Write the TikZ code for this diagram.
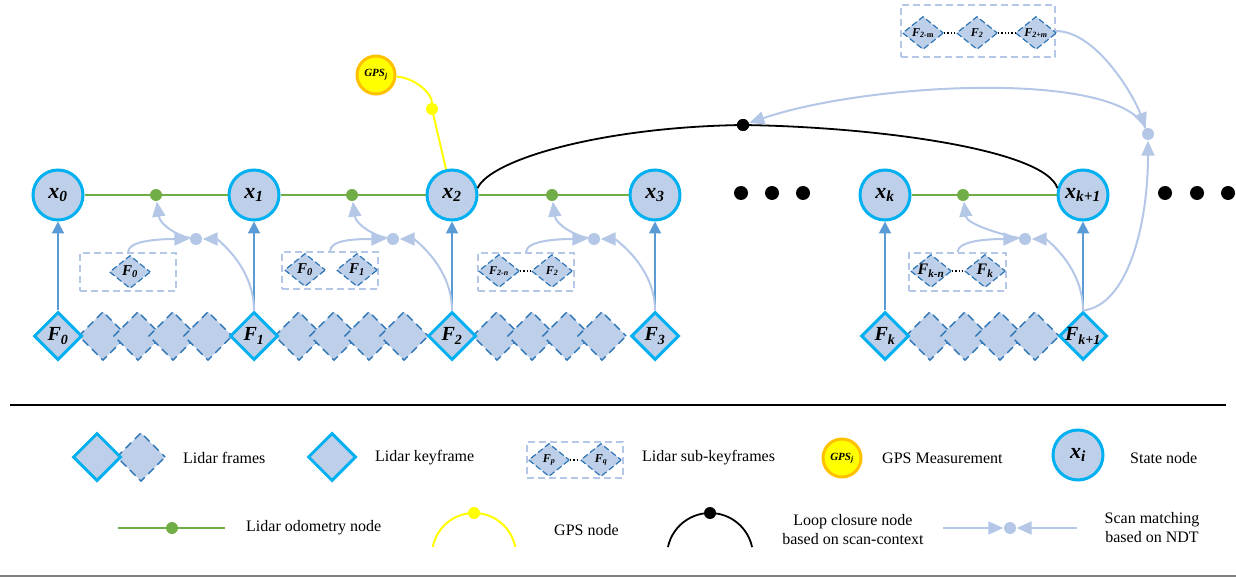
\documentclass[tikz,border=0pt]{standalone}
\usepackage{fontspec}
\setmainfont{Liberation Serif}
\usetikzlibrary{shapes.geometric,arrows.meta}
\definecolor{fillb}{RGB}{189,207,233}
\definecolor{cyanb}{RGB}{0,176,240}
\definecolor{darkb}{RGB}{46,117,182}
\definecolor{arrowb}{RGB}{91,155,213}
\definecolor{lightb}{RGB}{180,199,231}
\definecolor{greenb}{RGB}{112,173,71}
\definecolor{gpsyel}{RGB}{255,255,0}
\definecolor{gpsor}{RGB}{255,192,0}
\definecolor{sepgray}{RGB}{128,128,128}
\tikzset{
  stnode/.style={circle, draw=cyanb, line width=3pt, fill=fillb, minimum size=50pt, inner sep=0pt,
    font=\fontsize{22}{22}\selectfont\bfseries\itshape},
  kf/.style={diamond, draw=cyanb, line width=3pt, fill=fillb, minimum width=48pt, minimum height=48pt, inner sep=0pt,
    label={[font=\fontsize{20}{20}\selectfont\bfseries\itshape, inner sep=0pt]center:{#1}}},
  lfr/.style={diamond, draw=darkb, line width=1.4pt, dash pattern=on 8pt off 5pt, dash phase=4pt, fill=fillb,
    minimum width=49pt, minimum height=49pt, inner sep=0pt},
  subd/.style={diamond, draw=darkb, line width=1.2pt, dash pattern=on 6pt off 3pt, dash phase=2pt, fill=fillb,
    minimum width=41pt, minimum height=33pt, inner sep=0pt,
    label={[font=\fontsize{#1}{#1}\selectfont\bfseries\itshape, inner sep=0pt]center:{\sublab}}},
  sbox/.style={draw=lightb, line width=1.4pt, dash pattern=on 7pt off 4pt, inner sep=0pt},
  gdot/.style={circle, fill=greenb, minimum size=12pt, inner sep=0pt},
  sdot/.style={circle, fill=lightb, minimum size=12pt, inner sep=0pt},
  ydot/.style={circle, fill=gpsyel, minimum size=12pt, inner sep=0pt},
  bdot/.style={circle, fill=black, minimum size=12pt, inner sep=0pt},
  bigdot/.style={circle, fill=black, minimum size=14pt, inner sep=0pt},
  gpsn/.style={circle, fill=gpsyel, draw=gpsor, line width=3pt, minimum size=38pt, inner sep=0pt,
    font=\fontsize{11}{11}\selectfont\bfseries\itshape},
  sm/.style={draw=lightb, line width=2pt, -{Triangle[length=15pt,width=13pt]}, shorten >=0.5pt},
  vup/.style={draw=arrowb, line width=2pt, -{Triangle[length=12pt,width=12pt]}},
  odo/.style={draw=greenb, line width=2.8pt},
  yel/.style={draw=gpsyel, line width=2pt},
  loopl/.style={draw=black, line width=1.8pt},
  dotl/.style={draw=black, line width=1.3pt, dash pattern=on 1.3pt off 2pt},
  lt/.style={anchor=west, inner sep=0pt, font=\fontsize{16}{19}\selectfont\mdseries\upshape},
  ltc/.style={align=center, inner sep=0pt, font=\fontsize{16}{19}\selectfont\mdseries\upshape},
}
\newcommand{\sublab}{}
\begin{document}
\begin{tikzpicture}[x=1pt,y=1pt]
\useasboundingbox (0,0) rectangle (1236,-577);

% ---------- lidar frames (dashed) ----------
\foreach \k/\n in {58/a,254/b,452/c,885/d}{
  \foreach \o/\m in {45/1,80/2,115/3,150/4}{
    \node[lfr] (fr-\n-\m) at (\k+\o,-336) {};
  }
}

% ---------- keyframes ----------
\node[kf={F\textsubscript{\textbf{0}}}] (F0) at (58,-336) {};
\node[kf={F\textsubscript{1}}] (F1) at (254,-336) {};
\node[kf={F\textsubscript{2}}] (F2) at (452,-336) {};
\node[kf={F\textsubscript{3}}] (F3) at (655,-336) {};
\node[kf={F\textsubscript{k}}] (Fk) at (885,-336) {};
\node[kf={F\textsubscript{k+1}}] (Fk1) at (1083,-336) {};

% ---------- state nodes ----------
\node[stnode] (x0) at (58,-195) {x\textsubscript{\textbf{0}}};
\node[stnode] (x1) at (254,-195) {x\textsubscript{\textbf{1}}};
\node[stnode] (x2) at (452,-195) {x\textsubscript{2}};
\node[stnode] (x3) at (655,-195) {x\textsubscript{3}};
\node[stnode] (xk) at (885,-195) {x\textsubscript{k}};
\node[stnode] (xk1) at (1083,-195) {x\textsubscript{k+1}};

% ---------- odometry ----------
\node[gdot] (g1) at (156,-195) {};
\node[gdot] (g2) at (352,-195) {};
\node[gdot] (g3) at (552,-195) {};
\node[gdot] (g4) at (963,-195) {};
\draw[odo] (x0) -- (g1) -- (x1) -- (g2) -- (x2) -- (g3) -- (x3);
\draw[odo] (xk) -- (g4) -- (xk1);

% ---------- keyframe -> state ----------
\foreach \a/\b in {F0/x0,F1/x1,F2/x2,F3/x3,Fk/xk,Fk1/xk1}{
  \draw[vup] (\a) -- (\b);
}

% ---------- sub-keyframe boxes ----------
\node[sbox, minimum width=96pt, minimum height=38pt] (b1) at (128,-272) {};
\node[sbox, minimum width=96pt, minimum height=37pt] (b2) at (330,-270.5) {};
\node[sbox, minimum width=96pt, minimum height=38pt] (b3) at (526,-272) {};
\node[sbox, minimum width=97pt, minimum height=38pt] (b4) at (957.5,-272) {};
\node[sbox, minimum width=154pt, minimum height=52pt] (tb) at (978,-31) {};

\renewcommand{\sublab}{F\textsubscript{\textbf{0}}}
\node[subd=15] (b1a) at (130,-272) {};
\node[subd=15] (b2a) at (305,-270) {};
\renewcommand{\sublab}{F\textsubscript{\textbf{1}}}
\node[subd=15] (b2b) at (357,-270) {};
\renewcommand{\sublab}{F\textsubscript{2-n}}
\node[subd=12] (b3a) at (499,-271) {};
\renewcommand{\sublab}{F\textsubscript{2}}
\node[subd=12] (b3b) at (552,-271) {};
\renewcommand{\sublab}{F\textsubscript{k-n}}
\node[subd=16] (b4a) at (931,-271) {};
\renewcommand{\sublab}{F\textsubscript{k}}
\node[subd=16] (b4b) at (985,-271) {};
\renewcommand{\sublab}{F\textsubscript{2-\textup{m}}}
\node[subd=12] (tba) at (923,-33) {};
\renewcommand{\sublab}{F\textsubscript{2}}
\node[subd=12] (tbb) at (977,-33) {};
\renewcommand{\sublab}{F\textsubscript{2+m}}
\node[subd=12] (tbc) at (1036,-33) {};
\draw[dotl] (b3a.east) -- (b3b.west);
\draw[dotl] (b4a.east) -- (b4b.west);
\draw[dotl] (tba.east) -- (tbb.west);
\draw[dotl] (tbb.east) -- (tbc.west);

% ---------- scan matching ----------
\node[sdot] (s1) at (196,-239) {};
\node[sdot] (s2) at (393,-239) {};
\node[sdot] (s3) at (594,-239) {};
\node[sdot] (s4) at (1025,-239) {};
\foreach \s/\g/\b/\K in {s1/g1/b1/F1,s2/g2/b2/F2,s3/g3/b3/F3,s4/g4/b4/Fk1}{
  \draw[sm] (\s) .. controls +(-18,3) and +(4,-30) .. (\g);
  \draw[sm] (\b.north) .. controls +(0,12) and +(-35,0) .. (\s);
  \draw[sm] (\K.north) .. controls +(0,45) and +(20,0) .. (\s);
}

% ---------- GPS ----------
\node[gpsn] (gps) at (376,-75) {GPS\textsubscript{j}};
\node[ydot] (yd) at (432,-109) {};
\draw[yel] (gps) .. controls +(40,-3) and +(0,15) .. (yd);
\draw[yel] (yd) -- (x2);

% ---------- loop closure ----------
\node[bdot] (lc) at (743,-125) {};
\draw[loopl] (x2.15) .. controls (490,-160) and (600,-127) .. (lc.center);
\draw[loopl] (lc.center) .. controls (880,-127) and (1045,-150) .. (xk1.165);
\node[bdot] at (lc) {};

\node[sdot] (r) at (1148,-134) {};
\draw[sm] (r) .. controls (1120,-70) and (870,-82) .. (lc);
\draw[sm] (Fk1.north) .. controls +(45,5) and +(0,-90) .. (r);
\draw[sm] (tb.east) .. controls +(40,0) and +(-15,40) .. (r);

% ---------- ellipsis dots ----------
\node[bigdot] (e1) at (741,-193) {};
\node[bigdot] (e2) at (772,-193) {};
\node[bigdot] (e3) at (803,-193) {};
\node[bigdot] (e4) at (1165,-193) {};
\node[bigdot] (e5) at (1197,-193) {};
\node[bigdot] (e6) at (1228,-193) {};

% ---------- separators ----------
\coordinate (sepA) at (10,-405);
\coordinate (sepB) at (1226,-405);
\draw[line width=1.2pt] (sepA) -- (sepB);
\coordinate (sepC) at (0,-576);
\coordinate (sepD) at (1236,-576);
\draw[sepgray, line width=1.2pt] (sepC) -- (sepD);

% ---------- legend row 1 ----------
\node[lfr] (lg1b) at (141,-457) {};
\node[kf={}] (lg1a) at (97,-457) {};
\node[lt] (lt1) at (183,-458) {Lidar frames};
\node[kf={}] (lg2) at (332,-457) {};
\node[lt] (lt2) at (375,-458) {Lidar keyframe};
\node[sbox, minimum width=96pt, minimum height=36pt] (lg3) at (575,-460) {};
\renewcommand{\sublab}{F\textsubscript{p}}
\node[subd=12] (lg3a) at (549,-460) {};
\renewcommand{\sublab}{F\textsubscript{q}}
\node[subd=12] (lg3b) at (601,-460) {};
\draw[dotl] (lg3a.east) -- (lg3b.west);
\node[lt] (lt3) at (642,-458) {Lidar sub-keyframes};
\node[gpsn] (lg4) at (842,-458) {GPS\textsubscript{j}};
\node[lt] (lt4) at (882,-458) {GPS Measurement};
\node[stnode] (lg5) at (1078,-455) {x\textsubscript{i}};
\node[lt] (lt5) at (1130,-458) {State node};

% ---------- legend row 2 ----------
\coordinate (lo1) at (118,-528);
\coordinate (lo2) at (225,-528);
\node[gdot] (lod) at (172,-528) {};
\draw[odo] (lo1) -- (lod) -- (lo2);
\node[lt] (lt6) at (246,-528) {Lidar odometry node};

\draw[yel] ([shift={(169:42)}]474,-555) arc[start angle=169, end angle=11, radius=42];
\node[ydot] (lyd) at (474,-513) {};
\node[lt] (lt7) at (554,-530) {GPS node};

\draw[loopl] ([shift={(168:43)}]710,-556) arc[start angle=168, end angle=12, radius=43];
\node[bdot] (lbd) at (710,-513) {};
\node[ltc] (lt8) at (853,-530) {Loop closure node\\based on scan-context};

\coordinate (ls1) at (943,-528);
\coordinate (ls2) at (1077,-528);
\node[sdot] (lsd) at (1010,-528) {};
\draw[sm] (ls1) -- (lsd);
\draw[sm] (ls2) -- (lsd);
\node[ltc] (lt9) at (1152,-528) {Scan matching\\based on NDT};
\end{tikzpicture}
\end{document}
